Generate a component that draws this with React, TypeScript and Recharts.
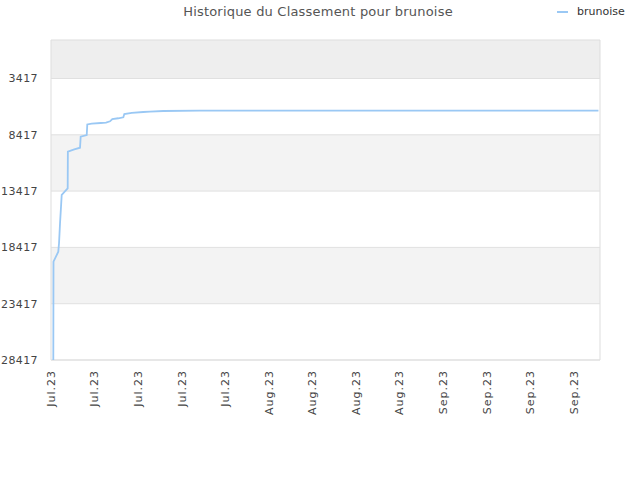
import { LineChart, Line, XAxis, YAxis, ReferenceArea, ReferenceLine } from 'recharts'

// days since the first weekly tick (3 Jul) and the ranking on that day
const days = [0.37, 0.4, 1.17, 1.29, 1.45, 1.61, 1.72, 2.68, 2.71, 3.74, 4.66, 4.77, 5.74, 5.83, 6.54, 7.99, 8.84, 9.48, 9.85, 10.81, 11.62, 11.78, 12.97, 14.83, 15.9, 18.05, 23.9, 87.95]
const ranks = [28417, 19690, 18800, 18050, 16280, 14800, 13760, 13170, 9920, 9705, 9565, 8590, 8440, 7500, 7430, 7370, 7345, 7220, 7015, 6950, 6865, 6570, 6480, 6395, 6365, 6305, 6280, 6280]

const xTicks = [0, 7, 14, 21, 28, 35, 42, 49, 56, 63, 70, 77, 84]
const xTickLabels = ['Jul.23', 'Jul.23', 'Jul.23', 'Jul.23', 'Jul.23', 'Aug.23', 'Aug.23', 'Aug.23', 'Aug.23', 'Sep.23', 'Sep.23', 'Sep.23', 'Sep.23']
const yTicks = [3417, 8417, 13417, 18417, 23417, 28417]

const data = days.map((d, i) => ({ day: d, rank: ranks[i] }))

const font = '"DejaVu Sans", Verdana, sans-serif'

function XTick({ x, y, payload }: any) {
  const i = xTicks.indexOf(payload.value)
  return (
    <text
      x={x}
      y={y}
      transform={`rotate(-90 ${x} ${y})`}
      textAnchor="end"
      dy="0.35em"
      fontSize={11}
      letterSpacing={1}
      fill="#444"
      fontFamily={font}
    >
      {xTickLabels[i]}
    </text>
  )
}

export default function App() {
  return (
    <div style={{ position: 'absolute', left: 0, top: 0, width: 640, height: 480, background: '#fff', fontFamily: font }}>
      <div style={{ position: 'absolute', left: 0, top: 4, width: 636, textAlign: 'center', fontSize: 13, letterSpacing: 0.2, color: '#555' }}>
        Historique du Classement pour brunoise
      </div>
      <div style={{ position: 'absolute', left: 557, top: 5, display: 'flex', alignItems: 'center', fontSize: 11, color: '#333' }}>
        <span style={{ display: 'inline-block', width: 11, height: 2, background: '#9ac8f4', marginRight: 9 }} />
        brunoise
      </div>
      <LineChart width={640} height={480} data={data} margin={{ top: 40, right: 40, bottom: 60, left: 0 }}>
        <ReferenceArea y1={0} y2={3417} fill="#eeeeee" fillOpacity={1} stroke="none" />
        <ReferenceArea y1={8417} y2={13417} fill="#f3f3f3" fillOpacity={1} stroke="none" />
        <ReferenceArea y1={18417} y2={23417} fill="#f3f3f3" fillOpacity={1} stroke="none" />
        {yTicks.map((t) => (
          <ReferenceLine key={t} y={t} stroke="#e0e0e0" strokeWidth={1} />
        ))}
        <ReferenceArea x1={0} x2={88.2} y1={0} y2={28417} fill="none" stroke="#dddddd" strokeWidth={1} />
        <XAxis
          dataKey="day"
          type="number"
          domain={[0, 88.2]}
          ticks={xTicks}
          interval={0}
          axisLine={false}
          tickLine={false}
          tick={<XTick />}
          tickSize={0}
          tickMargin={10}
          height={60}
          allowDataOverflow
        />
        <YAxis
          type="number"
          domain={[0, 28417]}
          reversed
          ticks={yTicks}
          interval={0}
          axisLine={false}
          tickLine={false}
          tickSize={0}
          tickMargin={13}
          width={51}
          tick={{ fontSize: 11, fill: '#444', fontFamily: font, letterSpacing: 0.4 }}
          allowDataOverflow
        />
        <Line
          type="linear"
          dataKey="rank"
          stroke="#9ac8f4"
          strokeWidth={1.8}
          dot={false}
          isAnimationActive={false}
        />
      </LineChart>
    </div>
  )
}
